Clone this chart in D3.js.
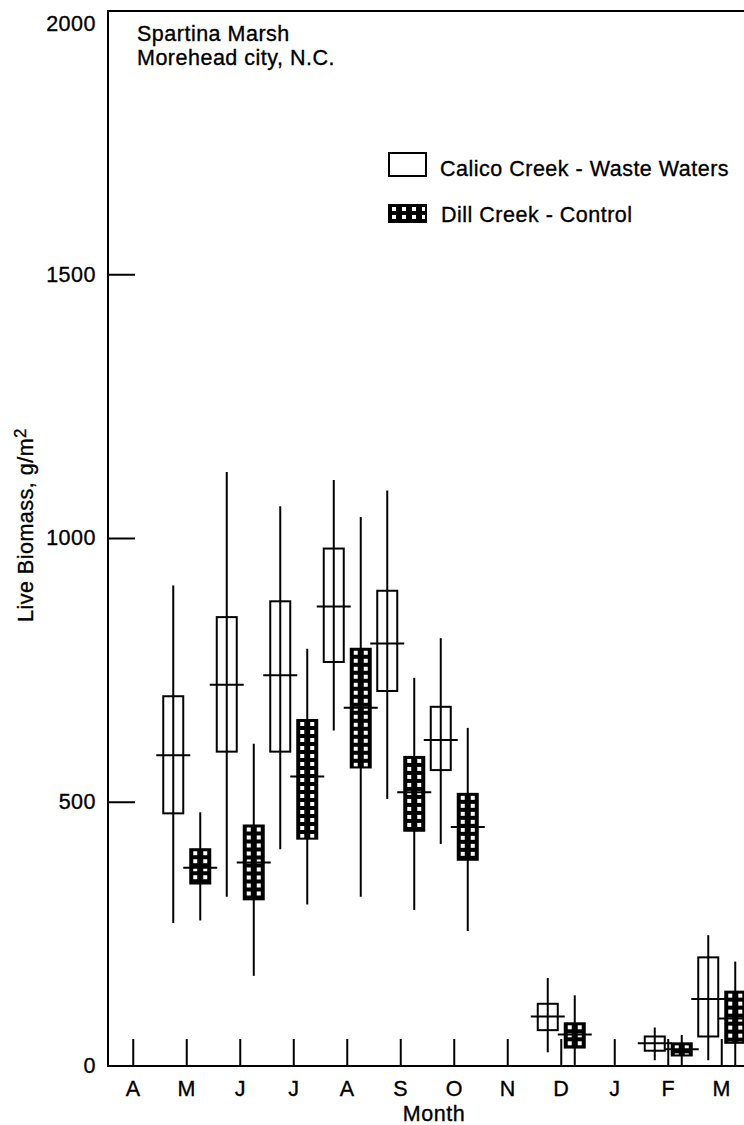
<!DOCTYPE html>
<html>
<head>
<meta charset="utf-8">
<script src="https://cdn.jsdelivr.net/npm/d3@7"></script>
<style>
  body { margin: 0; background: #fff; }
  svg text { font-family: "Liberation Sans", Arial, Helvetica, sans-serif; fill: #000; stroke: #000; stroke-width: 0.35px; }
</style>
</head>
<body>
<script>
// months on the x axis (Apr .. Mar)
const MONTH_KEYS = ["Apr", "May", "Jun", "Jul", "Aug", "Sep", "Oct", "Nov", "Dec", "Jan", "Feb", "Mar"];
const MONTH_LABELS = ["A", "M", "J", "J", "A", "S", "O", "N", "D", "J", "F", "M"];
const Y_TICKS = [0, 500, 1000, 1500, 2000];

// Calico Creek - Waste Waters
const CALICO_MONTHS = ["May", "Jun", "Jul", "Aug", "Sep", "Oct", "Dec", "Feb", "Mar"];
const CALICO_MIN = [270, 320, 410, 635, 505, 420, 25, 10, 10];
const CALICO_Q1 = [478, 595, 595, 765, 710, 560, 67, 28, 55];
const CALICO_MED = [588, 722, 740, 870, 800, 617, 93, 42, 126];
const CALICO_Q3 = [700, 850, 880, 980, 900, 680, 117, 55, 205];
const CALICO_MAX = [910, 1125, 1060, 1110, 1090, 810, 166, 72, 247];

// Dill Creek - Control
const DILL_MONTHS = ["May", "Jun", "Jul", "Aug", "Sep", "Oct", "Dec", "Feb", "Mar"];
const DILL_MIN = [275, 170, 305, 320, 295, 255, 0, 0, 0];
const DILL_Q1 = [345, 315, 430, 565, 445, 390, 34, 19, 43];
const DILL_MED = [375, 385, 548, 678, 518, 452, 59, 31, 89];
const DILL_Q3 = [410, 455, 655, 790, 585, 515, 80, 42, 140];
const DILL_MAX = [480, 610, 790, 1040, 735, 640, 133, 58, 197];

const WIDTH = 744;
const HEIGHT = 1125;
const LEFT = 108;
const TOP = 11;
const BASE = 1066;
const BOX_W = 20;
const OFFSET = 13.5;
const MED_HALF = 17;
const FONT = 21.5;
const SPACING = 0.5;

const svg = d3.select('body')
  .append('svg')
  .attr('width', WIDTH)
  .attr('height', HEIGHT);

const x = d3.scaleBand().domain(MONTH_KEYS).range([106.5, 748.5]);
const y = d3.scaleLinear().domain([0, 2000]).range([1065.5, 10.5]);
const cx = (m) => x(m) + x.bandwidth() / 2;

// month tick marks + labels
svg.append('g')
  .attr('transform', `translate(0,${BASE})`)
  .call(d3.axisBottom(x).tickFormat((d, i) => MONTH_LABELS[i]).tickSize(-27).tickPadding(15))
  .call(g => g.select('.domain').remove())
  .call(g => g.selectAll('line').attr('stroke', '#000').attr('stroke-width', 2))
  .call(g => g.selectAll('text')
    .attr('font-size', FONT)
    .attr('letter-spacing', SPACING)
    .attr('font-family', null));

// y ticks + labels
svg.append('g')
  .attr('transform', `translate(${LEFT},0)`)
  .call(d3.axisLeft(y).tickValues(Y_TICKS).tickFormat(d3.format('d')).tickSize(-27).tickPadding(12))
  .call(g => g.select('.domain').remove())
  .call(g => g.selectAll('line').attr('stroke', '#000').attr('stroke-width', 2))
  .call(g => g.selectAll('text')
    .attr('font-size', FONT)
    .attr('letter-spacing', SPACING)
    .attr('font-family', null)
    .attr('dy', d => d === 2000 ? '0.95em' : '0.32em'));

// frame (left, top, bottom)
svg.append('path')
  .attr('d', `M${WIDTH},${TOP}H${LEFT}V${BASE}H${WIDTH}`)
  .attr('fill', 'none')
  .attr('stroke', '#000')
  .attr('stroke-width', 2);

// axis titles
svg.append('text')
  .attr('x', 434)
  .attr('y', 1121)
  .attr('text-anchor', 'middle')
  .attr('font-size', FONT)
  .attr('letter-spacing', SPACING)
  .text('Month');

const yTitle = svg.append('text')
  .attr('transform', 'translate(33,525) rotate(-90)')
  .attr('text-anchor', 'middle')
  .attr('font-size', FONT)
  .attr('letter-spacing', SPACING);
yTitle.append('tspan').text('Live Biomass, g/m');
yTitle.append('tspan').attr('dy', -7).attr('font-size', 17).text('2');

// site note
svg.append('text').attr('x', 137).attr('y', 41).attr('font-size', FONT).attr('letter-spacing', SPACING).text('Spartina Marsh');
svg.append('text').attr('x', 137).attr('y', 65).attr('font-size', FONT).attr('letter-spacing', SPACING).text('Morehead city, N.C.');

const defs = svg.append('defs');
function dillPattern(id, px, py) {
  const p = defs.append('pattern')
    .attr('id', id)
    .attr('patternUnits', 'userSpaceOnUse')
    .attr('x', px).attr('y', py)
    .attr('width', 10).attr('height', 8);
  p.append('rect').attr('width', 10).attr('height', 8).attr('fill', '#000');
  p.append('rect').attr('x', 3).attr('y', 2).attr('width', 4).attr('height', 4).attr('fill', '#fff');
}

const calico = CALICO_MONTHS.map((m, i) => ({
  month: m, lo: CALICO_MIN[i], q1: CALICO_Q1[i], med: CALICO_MED[i], q3: CALICO_Q3[i], hi: CALICO_MAX[i]
}));
const dill = DILL_MONTHS.map((m, i) => ({
  month: m, lo: DILL_MIN[i], q1: DILL_Q1[i], med: DILL_MED[i], q3: DILL_Q3[i], hi: DILL_MAX[i]
}));

function drawBoxes(data, shift, filled, name) {
  const g = svg.append('g').attr('class', name);
  const box = g.selectAll('g').data(data).enter().append('g');

  box.append('line')
    .attr('x1', d => cx(d.month) + shift)
    .attr('x2', d => cx(d.month) + shift)
    .attr('y1', d => y(d.hi))
    .attr('y2', d => y(d.lo))
    .attr('stroke', '#000')
    .attr('stroke-width', 2);

  box.append('rect')
    .attr('x', d => cx(d.month) + shift - BOX_W / 2)
    .attr('y', d => y(d.q3))
    .attr('width', BOX_W)
    .attr('height', d => y(d.q1) - y(d.q3))
    .attr('fill', (d, i) => {
      if (!filled) return 'none';
      dillPattern(`${name}-${i}`, cx(d.month) + shift - BOX_W / 2, y(d.q3));
      return `url(#${name}-${i})`;
    })
    .attr('stroke', '#000')
    .attr('stroke-width', 2);

  box.append('line')
    .attr('x1', d => cx(d.month) + shift - MED_HALF)
    .attr('x2', d => cx(d.month) + shift + MED_HALF)
    .attr('y1', d => y(d.med))
    .attr('y2', d => y(d.med))
    .attr('stroke', '#000')
    .attr('stroke-width', 2);
}

drawBoxes(calico, -OFFSET, false, 'calico');
drawBoxes(dill, OFFSET, true, 'dill');

// legend
svg.append('rect')
  .attr('x', 389).attr('y', 153).attr('width', 37).attr('height', 23)
  .attr('fill', 'none').attr('stroke', '#000').attr('stroke-width', 2);
svg.append('text').attr('x', 440).attr('y', 176).attr('font-size', FONT).attr('letter-spacing', SPACING)
  .text('Calico Creek - Waste Waters');

dillPattern('legend-dill', 389, 205);
svg.append('rect')
  .attr('x', 389).attr('y', 205).attr('width', 37).attr('height', 17)
  .attr('fill', 'url(#legend-dill)').attr('stroke', '#000').attr('stroke-width', 2);
svg.append('text').attr('x', 441).attr('y', 222).attr('font-size', FONT).attr('letter-spacing', SPACING)
  .text('Dill Creek - Control');
</script>
</body>
</html>
